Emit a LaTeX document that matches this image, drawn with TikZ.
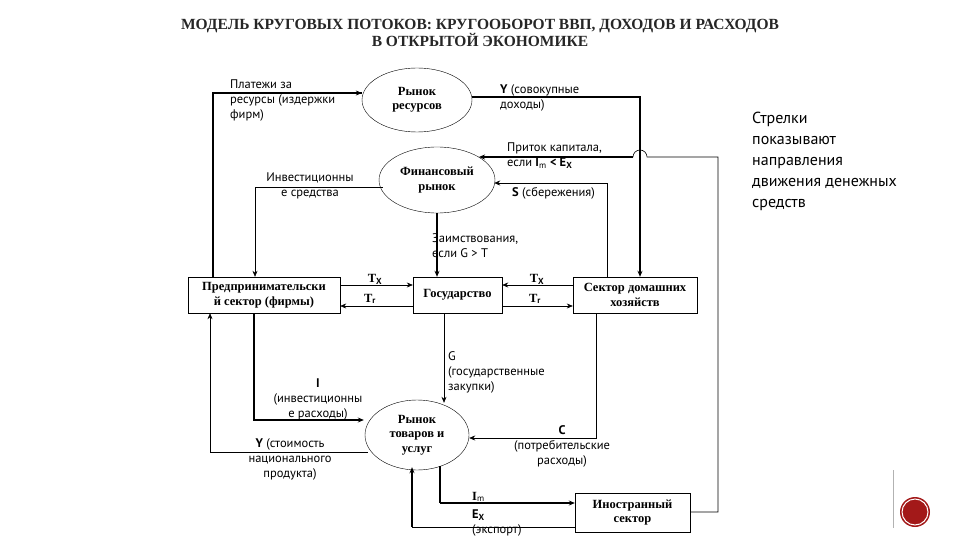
\documentclass[tikz,border=0pt]{standalone}
\usepackage{fontspec}
\setmainfont{PT Sans}
\newfontfamily\nodefont{Liberation Serif}
\usetikzlibrary{arrows.meta,shapes.geometric,calc}
\begin{document}
\begin{tikzpicture}[x=1pt,y=-1pt,
  lab/.style={font=\fontsize{12.5}{15}\selectfont,inner sep=0pt,align=center},
  ell/.style={draw,ellipse,thin,font=\nodefont\bfseries\fontsize{12.5}{14.5}\selectfont,align=center,inner sep=0pt},
  box/.style={draw,thin,font=\nodefont\bfseries\fontsize{12.5}{14.5}\selectfont,align=center,inner sep=1pt},
  thk/.style={line width=1.6pt},
  thn/.style={line width=0.6pt},
  arr/.style={-{Stealth[length=6pt,width=5pt]}}]
\useasboundingbox (0,0) rectangle (960,540);
% title
\node[font=\nodefont\bfseries\fontsize{15.5}{17}\selectfont,align=center,text=black!85] (title) at (480,33) {МОДЕЛЬ КРУГОВЫХ ПОТОКОВ: КРУГООБОРОТ ВВП, ДОХОДОВ И РАСХОДОВ\\В ОТКРЫТОЙ ЭКОНОМИКЕ};
% nodes
\node[ell,minimum width=110,minimum height=64] (res) at (417,100) {Рынок\\ресурсов};
\node[ell,minimum width=116,minimum height=66] (fin) at (437,180) {Финансовый\\рынок};
\node[ell,minimum width=104,minimum height=70] (goods) at (417,435) {Рынок\\товаров и\\услуг};
\node[box,minimum width=152,minimum height=36] (firm) at (264,295) {Предпринимательски\\й сектор (фирмы)};
\node[box,minimum width=89,minimum height=36] (gov) at (457.5,295) {Государство};
\node[box,minimum width=124,minimum height=36] (hh) at (635,295) {Сектор домашних\\хозяйств};
\node[box,minimum width=115,minimum height=39] (for) at (632.5,512.5) {Иностранный\\сектор};
% coordinates
\coordinate (a1) at (213,93);
\coordinate (a2) at (640,97);
\coordinate (c1) at (718,512);
\coordinate (c2) at (718,157);
\coordinate (h1) at (647,157);
\coordinate (h2) at (633,157);
\coordinate (h3) at (479,157);
\coordinate (s1) at (607,183);
\coordinate (i1) at (255,187);
\coordinate (ii1) at (254,420);
\coordinate (y1) at (210,452);
\coordinate (cc1) at (596,438);
\coordinate (m1) at (440,503);
\coordinate (e1) at (412,527);
\coordinate (g1) at (444,0);
% connectors
\draw[thk] (firm.north -| a1) -- (a1) -- (res.west |- a1);
\draw[thn,arr] ($(res.west |- a1)+(-8,0)$) -- (res.west |- a1);
\draw[thk,arr] (res.east |- a2) -- (a2) -- (hh.north -| a2);
\draw[thn] (for.east |- c1) -- (c1) -- (c2) -- (h1) arc (0:-180:7);
\draw[thk,arr] (h2) -- (h3);
\draw[thn,arr] (hh.north -| s1) -- (s1) -- ($(fin.east)+(-1,3)$);
\draw[thn,arr] ($(fin.west)+(4,7)$) -- (i1) -- (firm.north -| i1);
\draw[thk,arr] (fin.south) -- (gov.north -| fin.south);
\draw[thn,arr] ($(firm.east)+(0,-10)$) -- ($(gov.west)+(0,-10)$);
\draw[thn,arr] ($(gov.west)+(0,11)$) -- ($(firm.east)+(0,11)$);
\draw[thn,arr] ($(hh.west)+(0,-10)$) -- ($(gov.east)+(0,-10)$);
\draw[thn,arr] ($(gov.east)+(0,11)$) -- ($(hh.west)+(0,11)$);
\draw[thn,arr] (gov.south -| g1) -- ($(goods.north)+(27,3)$);
\draw[thk,arr] (firm.south -| ii1) -- (ii1) -- ($(goods.west)+(-1,-15)$);
\draw[thn,arr] ($(goods.west)+(3,17)$) -- (y1) -- (firm.south -| y1);
\draw[thn,arr] (hh.south -| cc1) -- (cc1) -- ($(goods.east)+(0,3)$);
\draw[thk] ($(goods.south)+(23,-4)$) -- (m1);
\draw[thk,arr] (m1) -- (for.west |- m1);
\draw[thn] (for.west |- e1) -- (e1);
\draw[thk,arr] (e1) -- ($(goods.south)+(-5,-3)$);
% labels
\node[lab,align=left,anchor=north west] (l1) at (230,80) {Платежи за\\ресурсы (издержки\\фирм)};
\node[lab,align=left,anchor=north west] (l2) at (500,84) {\textbf{Y} (совокупные\\доходы)};
\node[lab,align=left,anchor=north west] (l3) at (507,143) {Приток капитала,\\если \textbf{I}$_{\mathrm m}$ \textbf{< E$_{\mathbf X}$}};
\node[lab,anchor=north west] (l4) at (512,187) {\textbf{S} (сбережения)};
\node[lab,anchor=north] (l5) at (310,173) {Инвестиционны\\е средства};
\node[lab,align=left,anchor=north west] (l6) at (432,233) {Заимствования,\\если G > T};
\node[lab,font=\nodefont\bfseries\fontsize{12.5}{14}\selectfont] (tx1) at (375,279) {T$_{\mathbf X}$};
\node[lab,font=\nodefont\bfseries\fontsize{12.5}{14}\selectfont] (tr1) at (370,299) {T$_{\mathbf r}$};
\node[lab,font=\nodefont\bfseries\fontsize{12.5}{14}\selectfont] (tx2) at (537,279) {T$_{\mathbf X}$};
\node[lab,font=\nodefont\bfseries\fontsize{12.5}{14}\selectfont] (tr2) at (535,299) {T$_{\mathbf r}$};
\node[lab,align=left,anchor=north west] (l7) at (448,351) {G\\(государственные\\закупки)};
\node[lab,anchor=north] (l8) at (318,379) {\textbf{I}\\(инвестиционны\\е расходы)};
\node[lab,anchor=north] (l9) at (290,438) {\textbf{Y} (стоимость\\национального\\продукта)};
\node[lab,anchor=north] (l10) at (562,425) {\textbf{C}\\(потребительские\\расходы)};
\node[lab,anchor=west,font=\nodefont\bfseries\fontsize{12.5}{14}\selectfont] (l11) at (472,497) {I$_{\mathrm m}$};
\node[lab,align=left,anchor=north west] (l12) at (472,510) {\textbf{E$_{\mathbf X}$}\\(экспорт)};
\node[font=\fontsize{16}{21}\selectfont,align=left,anchor=north west,inner sep=0pt] (note) at (752,112) {Стрелки\\показывают\\направления\\движения денежных\\средств};
% decoration
\draw[gray!60,thin] (893,470) -- (893,528);
\fill[red!60!black!90] (915,512) circle (15);
\draw[white,line width=1pt] (915,512) circle (13);
\end{tikzpicture}
\end{document}
